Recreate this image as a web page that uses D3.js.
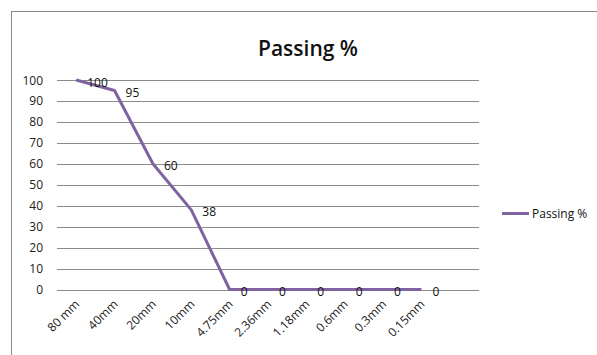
<!DOCTYPE html>
<html>
<head>
<meta charset="utf-8">
<script src="https://cdn.jsdelivr.net/npm/d3@7"></script>
<style>
body { margin: 0; background: #fff; }
text { font-family: "Open Sans", "Noto Sans", sans-serif; }
</style>
</head>
<body>
<div id="svgDiv"></div>
<script>
var w = 597;
var h = 355;

// sieve sizes and passing percentages
var sizes = ["80 mm", "40mm", "20mm", "10mm", "4.75mm", "2.36mm", "1.18mm", "0.6mm", "0.3mm", "0.15mm"]
var passing = [100, 95, 60, 38, 0, 0, 0, 0, 0, 0]
var yTicks = [0, 10, 20, 30, 40, 50, 60, 70, 80, 90, 100]
var seriesName = "Passing %"
var title = "Passing %"

var purple = "#7f63a1";

var svg = d3.select("#svgDiv")
	.append("svg")
	.attr("width", w)
	.attr("height", h);

// chart frame
svg.append("rect")
	.attr("x", 11.5).attr("y", 11.5)
	.attr("width", 700).attr("height", 500)
	.style("fill", "none")
	.style("stroke", "#8c8c8c")
	.style("stroke-width", 1)

svg.append("text")
	.attr("x", 308).attr("y", 56)
	.attr("text-anchor", "middle")
	.style("font-size", "21px")
	.style("font-weight", "600")
	.style("fill", "#111")
	.text(title)

// one empty slot at the end, like the sheet it came from
var domain = sizes.concat([""])

var x = d3.scaleBand()
	.domain(domain)
	.range([57, 479])

var y = d3.scaleLinear()
	.domain([0, 100])
	.range([289.5, 80])

var grid = svg.append("g")
grid.selectAll("line")
	.data(yTicks)
	.enter()
	.append("line")
	.attr("x1", 57).attr("x2", 479)
	.attr("y1", function (d) { return Math.round(y(d)) + 0.5 })
	.attr("y2", function (d) { return Math.round(y(d)) + 0.5 })
	.style("stroke", "#8c8c8c")
	.style("stroke-width", 1)

grid.selectAll("text")
	.data(yTicks)
	.enter()
	.append("text")
	.attr("x", 43)
	.attr("y", function (d) { return y(d) + 4.5 })
	.attr("text-anchor", "end")
	.style("font-size", "12px")
	.style("fill", "#222")
	.text(function (d) { return d })

// category labels, rotated
svg.selectAll(".xlab")
	.data(sizes)
	.enter()
	.append("text")
	.classed("xlab", true)
	.attr("transform", function (d) {
		return "translate(" + (x(d) + x.bandwidth() / 2 + 4) + ",305) rotate(-45)"
	})
	.attr("text-anchor", "end")
	.style("font-size", "12px")
	.style("fill", "#222")
	.text(function (d) { return d })

var line = d3.line()
	.x(function (d, i) { return x(sizes[i]) + x.bandwidth() / 2 })
	.y(function (d) { return y(d) })

svg.append("path")
	.datum(passing)
	.attr("d", line)
	.style("fill", "none")
	.style("stroke", purple)
	.style("stroke-width", 3)
	.style("stroke-linejoin", "round")

svg.selectAll(".dlab")
	.data(passing)
	.enter()
	.append("text")
	.classed("dlab", true)
	.attr("x", function (d, i) { return x(sizes[i]) + x.bandwidth() / 2 + 11 })
	.attr("y", function (d) { return y(d) + 6.5 })
	.style("font-size", "12px")
	.style("fill", "#111")
	.text(function (d) { return d })

// legend
svg.append("line")
	.attr("x1", 502).attr("x2", 529)
	.attr("y1", 213.5).attr("y2", 213.5)
	.style("stroke", purple)
	.style("stroke-width", 3)

svg.append("text")
	.attr("x", 532).attr("y", 218)
	.style("font-size", "12px")
	.style("fill", "#111")
	.text(seriesName)
</script>
</body>
</html>
